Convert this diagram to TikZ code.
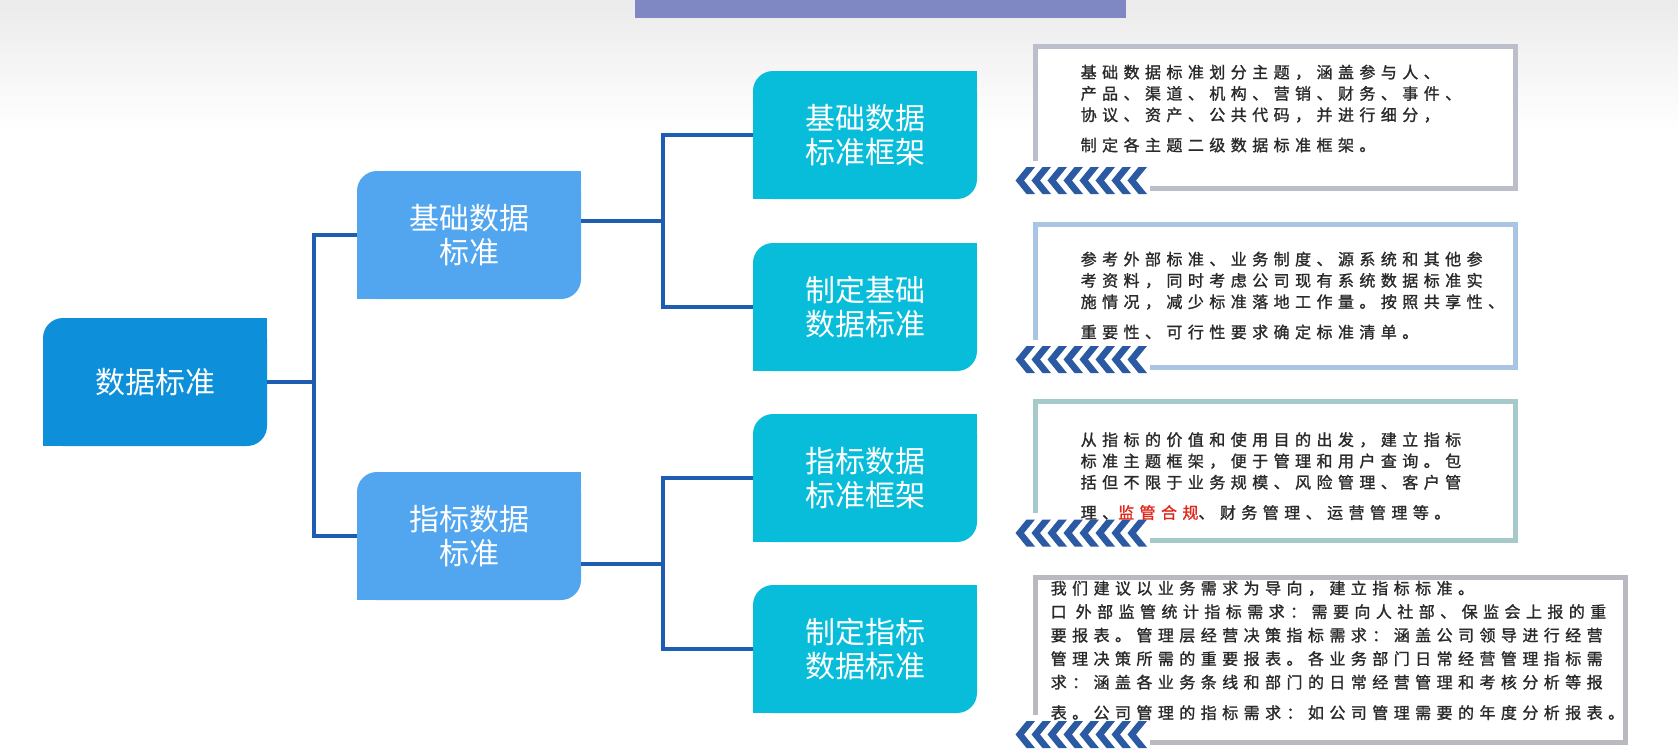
\documentclass[tikz,border=0pt]{standalone}
\usepackage{fontspec}
\newfontfamily\cjk{Noto Sans CJK SC}
\newfontfamily\cjknote[LetterSpace=34, FakeBold=1.3]{Noto Sans CJK SC}
\usetikzlibrary{calc}

\definecolor{rootblue}{HTML}{0E8FDA}
\definecolor{midblue}{HTML}{52A5EF}
\definecolor{leafcyan}{HTML}{08BDDA}
\definecolor{linkblue}{HTML}{1F5DB2}
\definecolor{chevblue}{HTML}{2C5AA2}
\definecolor{barblue}{HTML}{8088C3}
\definecolor{notetext}{HTML}{2A2A2A}
\definecolor{edgegray}{HTML}{BCBFCA}
\definecolor{edgesky}{HTML}{A9C5E4}
\definecolor{edgeteal}{HTML}{A6C9CA}
\definecolor{edgeash}{HTML}{B9B9C1}
\definecolor{alertred}{HTML}{E2271B}

\tikzset{
  cell/.style={fill=#1, rounded corners=20pt, text=white, align=center,
    font=\cjk\fontsize{30}{34}\selectfont, minimum width=224pt, minimum height=128pt, inner sep=0pt,
    append after command={\pgfextra{\let\cellnode\tikzlastnode
      \fill[#1, sharp corners] (\cellnode.north east) rectangle ++(-22pt,-22pt);
      \fill[#1, sharp corners] (\cellnode.south west) rectangle ++(22pt,22pt);}}},
  link/.style={draw=linkblue, line width=4pt},
  note/.style={draw=#1, fill=white, line width=5pt, minimum width=480pt, inner sep=0pt},
  notetxt/.style={anchor=north west, align=left, text=notetext, inner sep=0pt,
    font=\cjknote\fontsize{16}{21.3}\selectfont},
}

% row of chevrons on the lower left corner of a note box
\newcommand\chevrow[1]{%
  \fill[white] ($(#1.south west)+(-20,-30)$) rectangle ++(137,38);
  \foreach \k in {0,...,7}
    \fill[chevblue] ($(#1.south west)+(-17+16*\k,-10)$) -- ++(11,-13.5) -- ++(8.5,0)
      -- ++(-11,13.5) -- ++(11,13.5) -- ++(-8.5,0) -- cycle;
}

\begin{document}
\begin{tikzpicture}[x=1pt, y=-1pt]
  \useasboundingbox (0,0) rectangle (1678,748);
  \fill[white] (0,0) rectangle (1678,748);
  \shade[top color=black!8, bottom color=white] (0,0) rectangle (1678,130);
  \fill[barblue] (635,0) rectangle (1126,18);

  % tree
  \node[cell=rootblue] (root) at (155,382) {数据标准};
  \node[cell=midblue] (base) at (469,235) {基础数据\\标准};
  \node[cell=midblue] (metric) at (469,536) {指标数据\\标准};
  \node[cell=leafcyan] (baseframe) at (865,135) {基础数据\\标准框架};
  \node[cell=leafcyan] (basedef) at (865,307) {制定基础\\数据标准};
  \node[cell=leafcyan] (metricframe) at (865,478) {指标数据\\标准框架};
  \node[cell=leafcyan] (metricdef) at (865,649) {制定指标\\数据标准};

  \coordinate (hub) at ($(root.east)+(47,0)$);
  \draw[link] (root.east) -- (hub);
  \draw[link] (base.west) -| (hub) |- (metric.west);

  \coordinate (basehub) at ($(baseframe.west)!0.5!(basedef.west)+(-90,0)$);
  \draw[link] (base.east |- basehub) -- (basehub);
  \draw[link] (baseframe.west) -| (basehub) |- (basedef.west);

  \coordinate (metrichub) at ($(metricframe.west)!0.5!(metricdef.west)+(-90,0)$);
  \draw[link] (metric.east |- metrichub) -- (metrichub);
  \draw[link] (metricframe.west) -| (metrichub) |- (metricdef.west);

  % notes
  \node[note=edgegray, minimum height=142pt] (basenote) at (1275,117) {};
  \node[note=edgesky, minimum height=143pt] (defnote) at (1275,295.5) {};
  \node[note=edgeteal, minimum height=139pt] (framenote) at (1275,471) {};
  \node[note=edgeash, minimum width=590pt, minimum height=165pt] (metricnote) at (1330,659.5) {};
  \chevrow{basenote}
  \chevrow{defnote}
  \chevrow{framenote}
  \chevrow{metricnote}

  \node[notetxt] (basetext) at ($(basenote.north west)+(48,21)$)
    {基础数据标准划分主题，涵盖参与人、\\
     产品、渠道、机构、营销、财务、事件、\\
     协议、资产、公共代码，并进行细分，\\[9pt]
     制定各主题二级数据标准框架。};
  \node[notetxt] (deftext) at ($(defnote.north west)+(48,30)$)
    {参考外部标准、业务制度、源系统和其他参\\
     考资料，同时考虑公司现有系统数据标准实\\
     施情况，减少标准落地工作量。按照共享性、\\[9pt]
     重要性、可行性要求确定标准清单。};
  \node[notetxt] (frametext) at ($(framenote.north west)+(48,33)$)
    {从指标的价值和使用目的出发，建立指标\\
     标准主题框架，便于管理和用户查询。包\\
     括但不限于业务规模、风险管理、客户管\\[9pt]
     理、{\color{alertred}监管合规}、财务管理、运营管理等。};
  \node[notetxt, font=\cjknote\fontsize{16}{23.5}\selectfont] (metrictext)
    at ($(metricnote.north west)+(18,6)$)
    {我们建议以业务需求为导向，建立指标标准。\\
     口 外部监管统计指标需求：需要向人社部、保监会上报的重\\
     要报表。管理层经营决策指标需求：涵盖公司领导进行经营\\
     管理决策所需的重要报表。各业务部门日常经营管理指标需\\
     求：涵盖各业务条线和部门的日常经营管理和考核分析等报\\[7pt]
     表。公司管理的指标需求：如公司管理需要的年度分析报表。};
\end{tikzpicture}
\end{document}
